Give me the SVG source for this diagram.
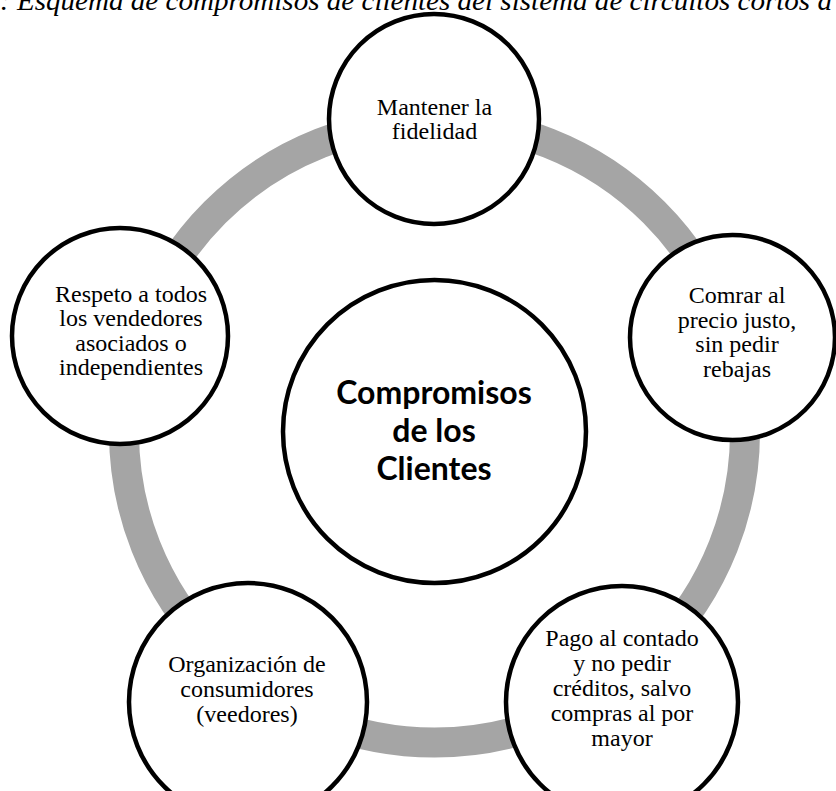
<svg xmlns="http://www.w3.org/2000/svg" width="836" height="791" viewBox="0 0 836 791">
  <style>
    .node { fill: #ffffff; stroke: #000000; stroke-width: 4.5; }
    .ring { fill: none; stroke: #a5a5a5; stroke-width: 30; }
    .lbl { font-family: "Liberation Serif", "Times New Roman", serif; font-size: 24px; fill: #000000; text-anchor: middle; }
    .hub { font-family: Lato, "Liberation Sans", sans-serif; font-weight: bold; font-size: 32px; fill: #000000; text-anchor: middle; }
    .title { font-family: "Liberation Serif", "Times New Roman", serif; font-style: italic; font-size: 28px; fill: #000000; }
  </style>
  <rect x="0" y="0" width="836" height="791" fill="#ffffff"/>
  <text class="title" x="0" y="10" textLength="832" lengthAdjust="spacingAndGlyphs">: Esquema de compromisos de clientes del sistema de circuitos cortos d</text>
  <g id="connectors">
    <circle class="ring" cx="434.5" cy="432" r="310.5"/>
  </g>
  <g id="hub">
    <circle class="node" cx="434.5" cy="431.5" r="151.5"/>
    <text class="hub" x="434" y="404">Compromisos</text>
    <text class="hub" x="434" y="442">de los</text>
    <text class="hub" x="434" y="480">Clientes</text>
  </g>
  <g id="node-fidelidad">
    <circle class="node" cx="434" cy="119" r="105"/>
    <text class="lbl" x="434.5" y="115">Mantener la</text>
    <text class="lbl" x="434.5" y="139">fidelidad</text>
  </g>
  <g id="node-precio">
    <circle class="node" cx="732.5" cy="337.5" r="102.5"/>
    <text class="lbl" x="737" y="303">Comrar al</text>
    <text class="lbl" x="737" y="327.5">precio justo,</text>
    <text class="lbl" x="737" y="352">sin pedir</text>
    <text class="lbl" x="737" y="376.5">rebajas</text>
  </g>
  <g id="node-pago">
    <circle class="node" cx="622" cy="702" r="116"/>
    <text class="lbl" x="622" y="646">Pago al contado</text>
    <text class="lbl" x="622" y="671">y no pedir</text>
    <text class="lbl" x="622" y="696">créditos, salvo</text>
    <text class="lbl" x="622" y="721">compras al por</text>
    <text class="lbl" x="622" y="746">mayor</text>
  </g>
  <g id="node-organizacion">
    <circle class="node" cx="248" cy="702" r="119"/>
    <text class="lbl" x="247" y="672">Organización de</text>
    <text class="lbl" x="247" y="697">consumidores</text>
    <text class="lbl" x="247" y="722">(veedores)</text>
  </g>
  <g id="node-respeto">
    <circle class="node" cx="120" cy="336" r="108"/>
    <text class="lbl" x="131" y="302">Respeto a todos</text>
    <text class="lbl" x="131" y="326">los vendedores</text>
    <text class="lbl" x="131" y="350.5">asociados o</text>
    <text class="lbl" x="131" y="375">independientes</text>
  </g>
</svg>
